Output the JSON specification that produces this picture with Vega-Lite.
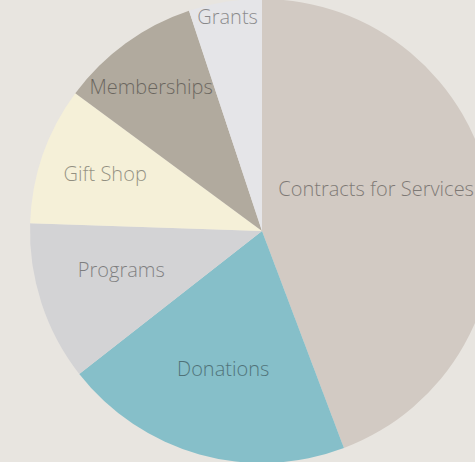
{
  "$schema": "https://vega.github.io/schema/vega-lite/v6.json",
  "autosize": {"type": "none"},
  "padding": 0,
  "width": 524,
  "height": 462,
  "background": "#e8e5e0",
  "data": {"values": [
    {"category": "Contracts for Services", "value": 44.3},
    {"category": "Donations", "value": 20.2},
    {"category": "Programs", "value": 11.1},
    {"category": "Gift Shop", "value": 9.6},
    {"category": "Memberships", "value": 9.8},
    {"category": "Grants", "value": 5.1}
  ]},
  "transform": [{"window": [{"op": "row_number", "as": "ord"}]}],
  "encoding": {
    "theta": {"field": "value", "type": "quantitative", "stack": true},
    "order": {"field": "ord", "type": "quantitative"}
  },
  "layer": [
    {
      "mark": {"type": "arc", "outerRadius": 232, "stroke": null},
      "encoding": {
        "color": {
          "field": "category", "type": "nominal", "legend": null,
          "scale": {
            "domain": ["Contracts for Services", "Donations", "Programs", "Gift Shop", "Memberships", "Grants"],
            "range": ["#d2cac3", "#86bfc9", "#d3d3d5", "#f5f0d8", "#b1aa9e", "#e5e5e8"]
          }
        }
      }
    },
    {
      "mark": {"type": "text", "font": "Open Sans", "fontWeight": 300, "fontSize": 20, "fill": "#000", "opacity": 0.4, "align": "center", "baseline": "middle", "radius": 116, "dy": -20},
      "encoding": {"text": {"condition": {"test": "datum.category !== 'Contracts for Services'", "value": ""}, "field": "category"}}
    },
    {
      "mark": {"type": "text", "font": "Open Sans", "fontWeight": 300, "fontSize": 20, "fill": "#000", "opacity": 0.4, "align": "center", "baseline": "middle", "radius": 144},
      "encoding": {"text": {"condition": {"test": "datum.category !== 'Donations'", "value": ""}, "field": "category"}}
    },
    {
      "mark": {"type": "text", "font": "Open Sans", "fontWeight": 300, "fontSize": 20, "fill": "#000", "opacity": 0.4, "align": "center", "baseline": "middle", "radius": 148, "dy": -6},
      "encoding": {"text": {"condition": {"test": "datum.category !== 'Programs'", "value": ""}, "field": "category"}}
    },
    {
      "mark": {"type": "text", "font": "Open Sans", "fontWeight": 300, "fontSize": 20, "fill": "#000", "opacity": 0.4, "align": "center", "baseline": "middle", "radius": 166, "dy": -2},
      "encoding": {"text": {"condition": {"test": "datum.category !== 'Gift Shop'", "value": ""}, "field": "category"}}
    },
    {
      "mark": {"type": "text", "font": "Open Sans", "fontWeight": 300, "fontSize": 20, "fill": "#000", "opacity": 0.4, "align": "center", "baseline": "middle", "radius": 182, "dx": -4, "dy": 4},
      "encoding": {"text": {"condition": {"test": "datum.category !== 'Memberships'", "value": ""}, "field": "category"}}
    },
    {
      "mark": {"type": "text", "font": "Open Sans", "fontWeight": 300, "fontSize": 20, "fill": "#000", "opacity": 0.4, "align": "center", "baseline": "middle", "radius": 216},
      "encoding": {"text": {"condition": {"test": "datum.category !== 'Grants'", "value": ""}, "field": "category"}}
    }
  ]
}
